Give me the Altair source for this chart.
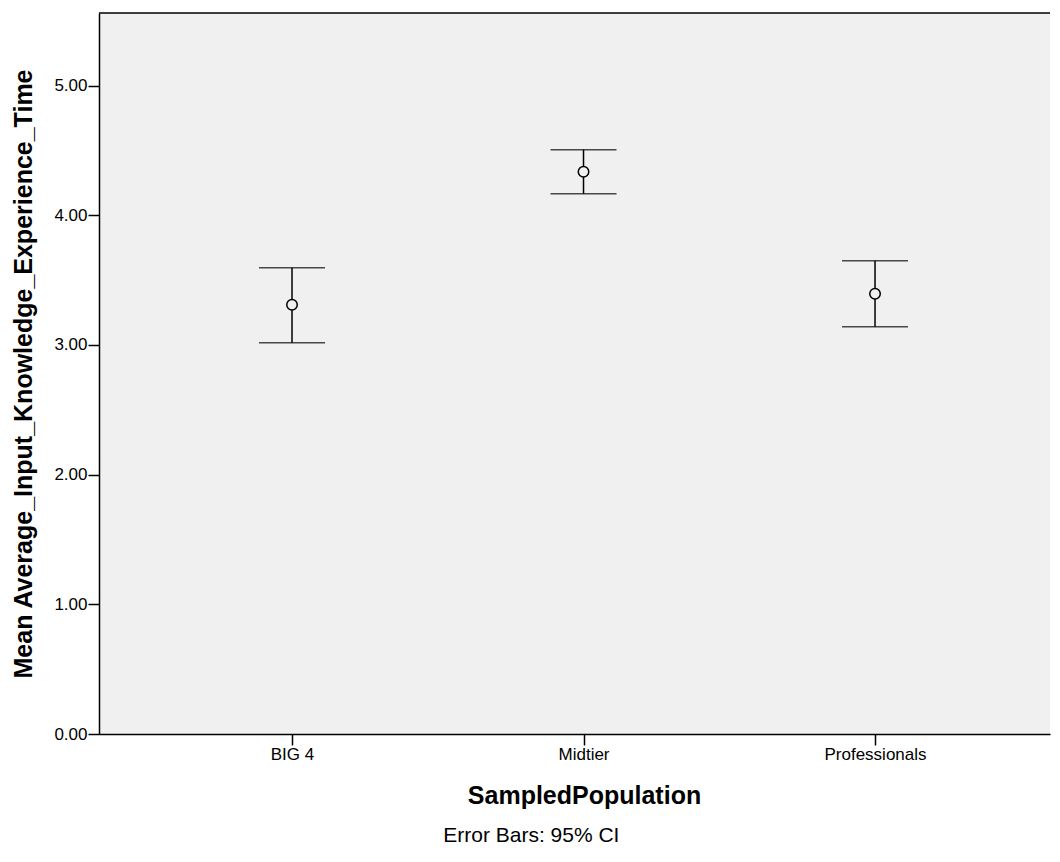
import altair as alt
import pandas as pd

categories = ["BIG 4", "Midtier", "Professionals"]
means = [3.31, 4.336, 3.395]
lowers = [3.017, 4.167, 3.14]
uppers = [3.596, 4.506, 3.65]
y_ticks = [0, 1, 2, 3, 4, 5]

df = pd.DataFrame({"SampledPopulation": categories, "mean": means,
                   "lower": lowers, "upper": uppers})

W, H = 951, 721
FONT = "Liberation Sans"

xscale = alt.Scale(type="point", padding=0.6312, align=0.5245)
yscale = alt.Scale(domain=[0, 5.56], nice=False, zero=True)

x_enc = alt.X("SampledPopulation:N", scale=xscale, sort=categories,
              axis=alt.Axis(title="SampledPopulation", labelAngle=0,
                            labelFontSize=17, labelColor="black", labelFont=FONT,
                            labelPadding=1, tickSize=11, tickWidth=1.5,
                            tickColor="black", domainColor="black", domainWidth=1.5,
                            titleFontSize=25, titleFont=FONT, titleFontWeight="bold",
                            titleColor="black", titlePadding=21, titleX=485))

y_axis = alt.Axis(title="Mean Average_Input_Knowledge_Experience_Time",
                  values=y_ticks, format=".2f", grid=False,
                  labelFontSize=17, labelColor="black", labelFont=FONT,
                  labelPadding=1, tickSize=11, tickWidth=1.5, tickColor="black",
                  domainColor="black", domainWidth=1.5,
                  titleFontSize=25, titleFont=FONT, titleFontWeight="bold",
                  titleColor="black", titlePadding=17)

base = alt.Chart(df)

whisker = base.mark_rule(color="black", strokeWidth=1.5).encode(
    x=x_enc,
    y=alt.Y("lower:Q", scale=yscale, axis=y_axis),
    y2="upper:Q",
)
cap_lo = base.mark_tick(color="black", orient="horizontal", size=66, thickness=1.5).encode(
    x="SampledPopulation:N", y="lower:Q")
cap_hi = base.mark_tick(color="black", orient="horizontal", size=66, thickness=1.5).encode(
    x="SampledPopulation:N", y="upper:Q")
dots = base.mark_point(shape="circle", filled=True, fill="#f0f0f0", stroke="black",
                       strokeWidth=1.5, size=110, opacity=1).encode(
    x="SampledPopulation:N", y="mean:Q")

top_border = alt.Chart(pd.DataFrame({"k": [0]})).mark_rule(
    color="black", strokeWidth=1.5).encode(
    x=alt.value(0), x2=alt.value(W), y=alt.value(0))

chart = alt.layer(whisker, cap_lo, cap_hi, dots, top_border).properties(
    width=W, height=H,
    padding={"left": 3, "top": 4, "right": 0, "bottom": 0},
    background="white",
    title=alt.TitleParams("Error Bars: 95% CI", orient="bottom", anchor="middle",
                          frame="bounds", fontSize=21, fontWeight="normal",
                          font=FONT, color="black", offset=17),
).configure_view(fill="#f0f0f0", strokeWidth=0)

chart.save("out.html", embed_options={"renderer": "svg", "actions": False})
